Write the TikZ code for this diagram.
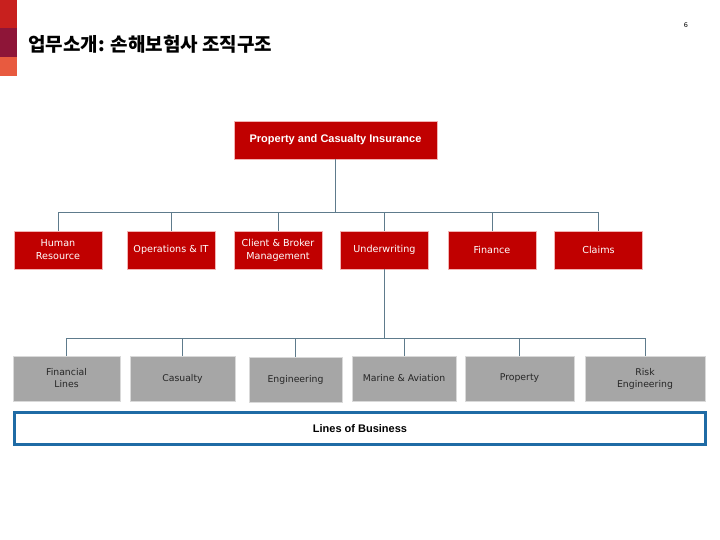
\documentclass[tikz,border=0pt]{standalone}
\usepackage{fontspec}
\setmainfont{Liberation Sans}
\newfontfamily\boxfont{DejaVu Sans}
\newfontfamily\krfont{Noto Sans CJK KR}
\usepackage{xcolor}
\usepackage{tikz}
\usetikzlibrary{positioning,calc}

\definecolor{hqred}{HTML}{C00000}
\definecolor{hqpink}{HTML}{F2B3B3}
\definecolor{lobgrey}{HTML}{A6A6A6}
\definecolor{lobedge}{HTML}{D9D9D9}
\definecolor{linkgrey}{HTML}{5E7B8C}
\definecolor{lobblue}{HTML}{1F6BA5}
\definecolor{stripered}{HTML}{C8201E}
\definecolor{stripemaroon}{HTML}{8E1538}
\definecolor{stripeorange}{HTML}{E85A3F}

\begin{document}
\begin{tikzpicture}[
    x=1pt, y=-1pt,
    head/.style={rectangle, draw=hqpink, fill=hqred, text=white, align=center, minimum width=203pt, minimum height=38pt, font=\fontsize{11}{12}\selectfont\bfseries},
    dept/.style={rectangle, draw=hqpink, fill=hqred, text=white, align=center, minimum width=88pt, minimum height=38pt, inner sep=1pt, font=\boxfont\fontsize{9.6}{13}\selectfont},
    lob/.style={rectangle, draw=lobedge, fill=lobgrey, text=black!85, align=center, minimum height=45pt, inner sep=1pt, font=\boxfont\fontsize{9.3}{12}\selectfont},
    frame/.style={rectangle, draw=lobblue, line width=3pt, minimum width=691pt, minimum height=32pt, font=\fontsize{11}{12}\selectfont\bfseries},
    line/.style={draw=linkgrey, line width=0.9pt}
]
\useasboundingbox (0,0) rectangle (720,540);

% Side stripes and title
\fill[stripered] (0,0) rectangle (17,28);
\fill[stripemaroon] (0,28) rectangle (17,57);
\fill[stripeorange] (0,57) rectangle (17,76);
\node[anchor=west, font=\krfont\bfseries\fontsize{19}{20}\selectfont, inner sep=0pt] (title) at (28,44) {업무소개: 손해보험사 조직구조};
\node[font=\boxfont\fontsize{6.5}{7}\selectfont, inner sep=0pt] (pageno) at (686,25) {6};

% Head
\node[head] (top) at (335.5,140) {Property and Casualty Insurance};

% Departments
\node[dept] (hr) at (58,250) {Human\\Resource};
\node[dept] (ops) at (171,250) {Operations \& IT};
\node[dept] (cbm) at (278,250) {Client \& Broker\\Management};
\node[dept] (uw) at (384.5,250) {Underwriting};
\node[dept] (fin) at (492,250) {Finance};
\node[dept] (claims) at (598.5,250) {Claims};

% Lines of business
\node[lob, minimum width=107pt] (finl) at (66.5,378.5) {Financial\\Lines};
\node[lob, minimum width=105pt] (cas) at (182.5,378.5) {Casualty};
\node[lob, minimum width=93pt] (eng) at (295.5,379.5) {Engineering};
\node[lob, minimum width=104pt] (mar) at (404,378.5) {Marine \& Aviation};
\node[lob, minimum width=109pt] (prop) at (519.5,378.5) {Property};
\node[lob, minimum width=120pt] (risk) at (645,378.5) {Risk\\Engineering};

\node[frame] (business) at (360,428.5) {Lines of Business};

% Connectors
\coordinate (bus1) at ($(top.south |- 0,212)$);
\draw[line] (top.south) -- (bus1);
\foreach \n in {hr,ops,cbm,uw,fin,claims}
    \draw[line] (bus1) -| (\n.north);

\coordinate (bus2) at ($(uw.south |- 0,338)$);
\draw[line] (uw.south) -- (bus2);
\foreach \n in {finl,cas,eng,mar,prop,risk}
    \draw[line] (bus2) -| (\n.north);

\end{tikzpicture}
\end{document}
